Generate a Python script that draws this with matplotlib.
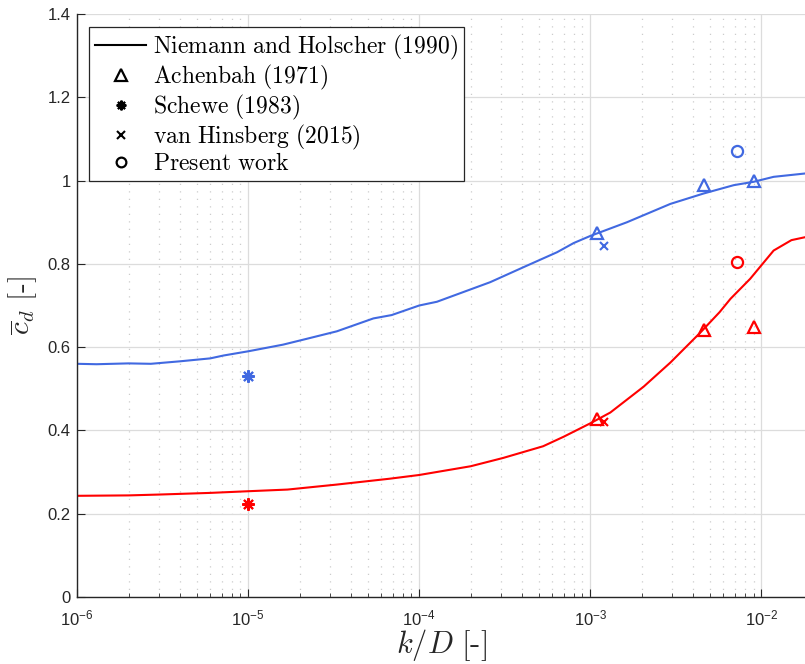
import matplotlib
matplotlib.use('Agg')
import matplotlib.pyplot as plt
from matplotlib.lines import Line2D
from matplotlib.font_manager import FontProperties
from matplotlib.ticker import LogLocator, NullFormatter

plt.rcParams['font.family'] = ['Liberation Sans', 'DejaVu Sans']
plt.rcParams['mathtext.fontset'] = 'custom'
plt.rcParams['mathtext.rm'] = 'Liberation Sans'

# Niemann and Holscher curves (two cases)
blue_k = [1e-6, 1.3e-6, 2e-6, 2.7e-6, 4e-6, 6e-6, 7.2e-6, 1e-5, 1.6e-5, 2.2e-5,
          3.3e-5, 5.4e-5, 6.9e-5, 1e-4, 1.27e-4, 2.6e-4, 4.07e-4, 6.4e-4, 8e-4,
          1e-3, 1.64e-3, 2.94e-3, 4.6e-3, 6.9e-3, 9e-3, 1.18e-2, 1.8e-2]
blue_cd = [0.560, 0.559, 0.561, 0.560, 0.566, 0.573, 0.580, 0.590, 0.606, 0.620,
           0.638, 0.669, 0.677, 0.700, 0.709, 0.756, 0.792, 0.828, 0.850,
           0.867, 0.900, 0.944, 0.969, 0.989, 0.997, 1.009, 1.017]
red_k = [1e-6, 2e-6, 3e-6, 6e-6, 1e-5, 1.7e-5, 3.3e-5, 6.7e-5, 1e-4, 2e-4,
         3.1e-4, 5.3e-4, 7e-4, 1e-3, 1.31e-3, 2.05e-3, 2.94e-3, 4.4e-3, 5.7e-3,
         6.6e-3, 8.6e-3, 1.18e-2, 1.5e-2, 1.8e-2]
red_cd = [0.243, 0.244, 0.246, 0.250, 0.254, 0.258, 0.270, 0.284, 0.293, 0.314,
          0.334, 0.362, 0.385, 0.417, 0.443, 0.505, 0.563, 0.635, 0.684,
          0.716, 0.764, 0.832, 0.857, 0.864]

# Achenbach (1971)
ach_k = [1.1e-3, 4.6e-3, 9.1e-3]
ach_blue = [0.874, 0.989, 0.999]
ach_red = [0.427, 0.641, 0.648]

# Schewe (1983)
sch_k = [1e-5]
sch_blue = [0.530]
sch_red = [0.224]

# van Hinsberg (2015)
hin_k = [1.2e-3]
hin_blue = [0.843]
hin_red = [0.420]

# present work
pw_k = [7.25e-3]
pw_blue = [1.071]
pw_red = [0.804]

BLUE = '#4169E1'
RED = '#FF0000'
AX = '#262626'

fig = plt.figure(figsize=(8.05, 6.64), dpi=100)
ax = fig.add_axes([0.0957, 0.1009, 0.9043, 0.878])

for c, k, cd in [(BLUE, blue_k, blue_cd), (RED, red_k, red_cd)]:
    ax.plot(k, cd, color=c, lw=1.5)

for c, a, s, h, p in [(BLUE, ach_blue, sch_blue, hin_blue, pw_blue),
                      (RED, ach_red, sch_red, hin_red, pw_red)]:
    ax.plot(ach_k, a, ls='none', marker='^', ms=9, mfc='none', mec=c, mew=1.6)
    ax.plot(sch_k, s, ls='none', marker=(8, 2, 0), ms=9, mec=c, mew=1.5)
    ax.plot(hin_k, h, ls='none', marker='x', ms=6, mec=c, mew=1.5)
    ax.plot(pw_k, p, ls='none', marker='o', ms=8, mfc='none', mec=c, mew=1.6)

ax.set_xscale('log')
ax.set_xlim(1e-6, 1.8e-2)
ax.set_ylim(0, 1.4)
ax.set_yticks([0, 0.2, 0.4, 0.6, 0.8, 1.0, 1.2, 1.4])
ax.set_yticklabels(['0', '0.2', '0.4', '0.6', '0.8', '1', '1.2', '1.4'])
ax.xaxis.set_minor_locator(LogLocator(base=10, subs=range(2, 10), numticks=20))
ax.xaxis.set_minor_formatter(NullFormatter())

ax.grid(True, which='major', color='#dcdcdc', lw=0.9)
ax.grid(True, which='minor', axis='x', color='#cccccc', lw=0.9, ls=(0, (1, 5)))
ax.set_axisbelow(True)

for side in ['top', 'right']:
    ax.spines[side].set_visible(False)
for side in ['left', 'bottom']:
    ax.spines[side].set_color(AX)
    ax.spines[side].set_linewidth(1.0)
ax.tick_params(which='both', direction='in', colors=AX, labelsize=12)
ax.tick_params(axis='x', pad=8)
ax.tick_params(axis='y', pad=4.5)
ax.tick_params(which='major', length=6)
ax.tick_params(which='minor', length=3)

ax.set_xlabel(r'$k/D\ [\mathrm{\text{-}}]$', fontsize=22, math_fontfamily='cm',
              color=AX, labelpad=-1)
ax.set_ylabel(r'$\overline{c}_d\ [\mathrm{\text{-}}]$', fontsize=21,
              math_fontfamily='cm', color=AX, labelpad=6)

handles = [
    Line2D([], [], color='k', lw=1.5),
    Line2D([], [], ls='none', marker='^', ms=8, mfc='none', mec='k', mew=1.6),
    Line2D([], [], ls='none', marker=(8, 2, 0), ms=7, mec='k', mew=1.5),
    Line2D([], [], ls='none', marker='x', ms=6, mec='k', mew=1.5),
    Line2D([], [], ls='none', marker='o', ms=7, mfc='none', mec='k', mew=1.6),
]
labels = [
    r'$\mathrm{Niemann\ and\ Holscher\ (1990)}$',
    r'$\mathrm{Achenbah\ (1971)}$',
    r'$\mathrm{Schewe\ (1983)}$',
    r'$\mathrm{van\ Hinsberg\ (2015)}$',
    r'$\mathrm{Present\ work}$',
]
leg = ax.legend(handles, labels, loc='upper left', bbox_to_anchor=(0.017, 0.978),
                prop=FontProperties(size=17, math_fontfamily='cm'),
                frameon=True, fancybox=False, framealpha=1, edgecolor=AX,
                borderpad=0.25, labelspacing=0.04, handlelength=2.15,
                handletextpad=0.3, borderaxespad=0)
leg.get_frame().set_linewidth(0.9)

fig.savefig('out.png', dpi=100)
